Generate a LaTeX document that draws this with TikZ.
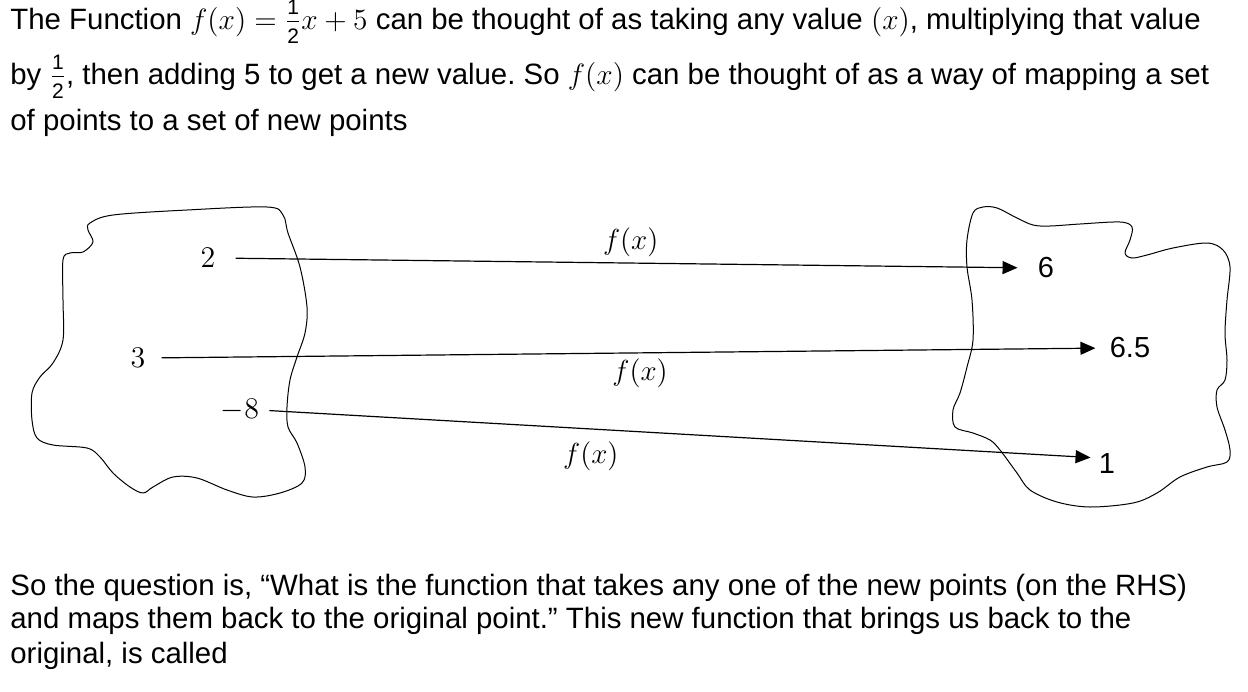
\documentclass[tikz,border=0pt]{standalone}
\usepackage{fix-cm}
\usepackage{amsmath}
\usepackage{fontspec}
\setmainfont{Liberation Sans}
\usetikzlibrary{arrows.meta}
\newcommand{\halfval}{\frac{\text{\fontsize{10.5}{12}\selectfont 1}\rule[-2.5pt]{0pt}{1pt}}{\text{\fontsize{10.5}{12}\selectfont 2}\rule{0pt}{10pt}}}
\tikzset{
    para/.style={anchor=base west, inner sep=0pt, font=\fontsize{14.7}{17}\selectfont},
    blob/.style={line width=0.5pt, black, line join=round},
    lnum/.style={inner sep=0pt, font=\fontsize{15}{17}\selectfont},
    rnum/.style={inner sep=0pt, font=\fontsize{14.5}{17}\selectfont},
    flbl/.style={inner sep=0pt, font=\fontsize{14.5}{17}\selectfont},
    maparr/.style={-{Triangle[length=7.5pt, width=6.5pt]}, line width=0.6pt}
}

\begin{document}
\frenchspacing
\begin{tikzpicture}[x=0.5pt, y=-0.5pt]
    \useasboundingbox (0,0) rectangle (1248,691);
    % text above
    \node[para] (top1) at (10,29) {The Function $f(x)=\halfval x+5$ can be thought of as taking any value $(x)$, multiplying that value};
    \node[para] (top2) at (10,84) {by $\halfval$, then adding 5 to get a new value. So $f(x)$ can be thought of as a way of mapping a set};
    \node[para] (top3) at (10,130) {of points to a set of new points};
    % the two sets
    \draw[blob] plot[smooth cycle, tension=0.55] coordinates {
      (90,223) (113,215) (187,210) (267,207) (283,215) (288,233) (300,267)
      (307,307) (305,333) (297,357) (290,380) (287,407) (288,427) (297,443)
      (305,467) (302,483) (280,493) (253,497) (227,490) (197,478) (173,477)
      (153,487) (143,493) (130,487) (113,473) (100,457) (87,448) (53,445)
      (37,438) (32,420) (32,393) (40,377) (53,363) (63,340) (63,300) (63,260)
      (70,253) (83,252) (93,242) (88,230)};
    \draw[blob] plot[smooth cycle, tension=0.55] coordinates {
      (973,213) (983,207) (997,208) (1017,218) (1033,225) (1050,226) (1080,224)
      (1120,222) (1132,227) (1130,240) (1125,253) (1132,258) (1147,255)
      (1173,248) (1207,243) (1223,250) (1230,267) (1227,300) (1225,333)
      (1227,360) (1225,380) (1217,390) (1217,407) (1225,430) (1230,450)
      (1227,462) (1207,467) (1180,477) (1157,493) (1133,503) (1090,507)
      (1057,502) (1030,490) (1017,473) (1000,450) (990,440) (973,433)
      (955,427) (953,410) (960,393) (967,367) (973,340) (972,300) (967,267)
      (967,240)};
    % points
    \node[lnum] (two)    at (208,258) {$2$};
    \node[lnum] (three)  at (138,358) {$3$};
    \node[lnum] (minus8) at (240,410) {$-8$};
    \node[rnum] (six)     at (1046,268) {6};
    \node[rnum] (sixhalf) at (1130,348) {6.5};
    \node[rnum] (one)     at (1107,464) {1};
    % mapping
    \draw[maparr, shorten <=10pt, shorten >=10pt] (two.east) -- node[flbl, pos=0.505, above=2.75pt]{$f(x)$} (six.west);
    \draw[maparr, shorten <=8pt, shorten >=7pt] (three.east) -- node[flbl, pos=0.513, below=2.75pt]{$f(x)$} (sixhalf.west);
    \draw[maparr, shorten <=5pt, shorten >=4pt] (minus8.east) -- node[flbl, pos=0.395, below=6pt]{$f(x)$} ([yshift=3pt]one.west);
    % text below
    \node[para] (bot1) at (10,595) {So the question is, “What is the function that takes any one of the new points (on the RHS)};
    \node[para] (bot2) at (10,628) {and maps them back to the original point.” This new function that brings us back to the};
    \node[para] (bot3) at (10,663) {original, is called};
\end{tikzpicture}
\end{document}
